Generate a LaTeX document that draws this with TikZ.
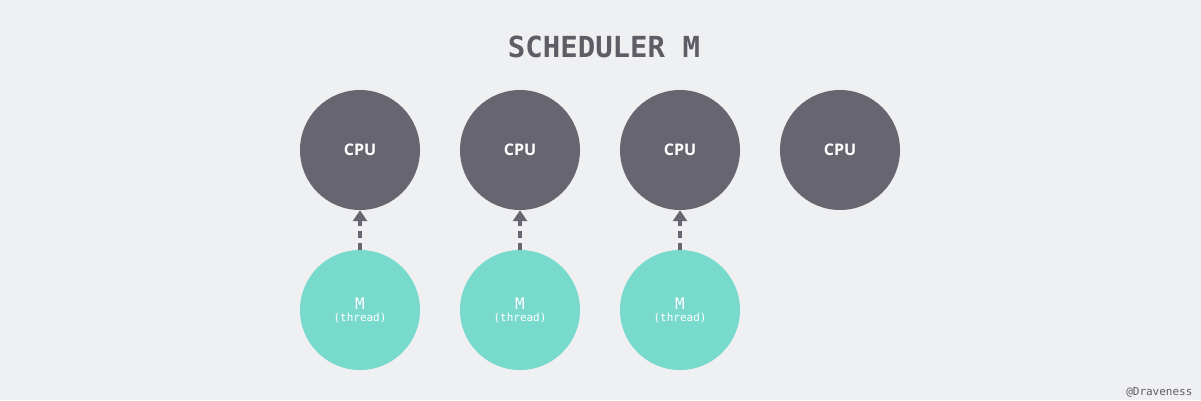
\documentclass[tikz,border=0pt]{standalone}
\usepackage{fontspec}
\setmainfont{Open Sans}
\setmonofont{DejaVu Sans Mono}
\usetikzlibrary{arrows.meta}
\definecolor{bg}{HTML}{EFF0F2}
\definecolor{cpu}{HTML}{67656F}
\definecolor{mth}{HTML}{78D9CD}
\definecolor{ttl}{HTML}{5E5D66}
\tikzset{cpunode/.style={circle,fill=cpu,minimum size=120pt,inner sep=0pt,text=white,font=\fontsize{16}{18}\selectfont\bfseries},
mnode/.style={circle,fill=mth,minimum size=120pt,inner sep=0pt,text=white,align=center},
link/.style={draw=cpu,line width=4pt,dash pattern=on 7pt off 5pt,-{Triangle[length=11pt,width=14pt]}}}
\begin{document}
\begin{tikzpicture}[x=1pt,y=-1pt]
\fill[bg] (0,0) rectangle (1201,400);
\useasboundingbox (0,0) rectangle (1201,400);
\node[text=ttl,font=\ttfamily\bfseries\fontsize{29}{32}\selectfont] (title) at (604,47) {SCHEDULER M};
\foreach \i/\x in {1/360,2/520,3/680,4/840}{\node[cpunode] (c\i) at (\x,150) {CPU};}
\foreach \i/\x in {1/360,2/520,3/680}{
\node[mnode] (m\i) at (\x,310) {{\ttfamily\fontsize{16}{18}\selectfont M}\\[0pt]{\ttfamily\fontsize{11}{13}\selectfont (thread)}};
\draw[link] (m\i.north) -- (c\i.south);}
\node[text=ttl,font=\ttfamily\fontsize{11}{13}\selectfont,anchor=east] (sig) at (1196,392) {@Draveness};
\end{tikzpicture}
\end{document}
